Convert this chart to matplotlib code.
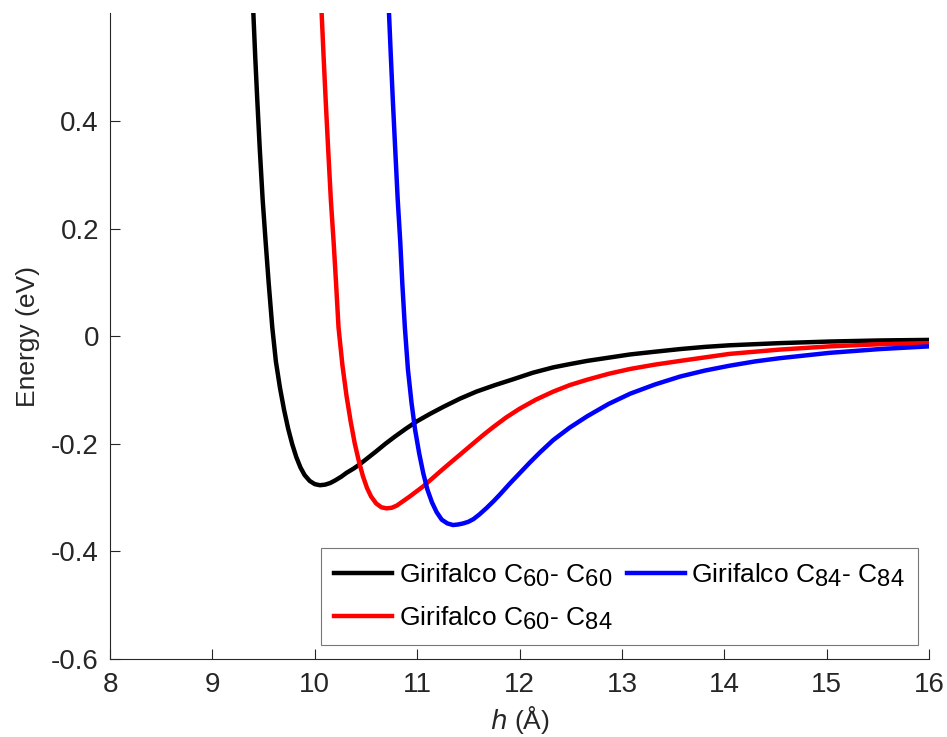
import matplotlib
matplotlib.use("Agg")
import matplotlib.pyplot as plt
import matplotlib._mathtext as _mt

# ---- data ----
h_c60_c60 = [9.40, 9.418, 9.438, 9.462, 9.491, 9.52, 9.55, 9.585, 9.62, 9.66, 9.70,
             9.74, 9.78, 9.82, 9.86, 9.90, 9.95, 10.00, 10.05, 10.10, 10.15, 10.20,
             10.26, 10.31, 10.38, 10.44, 10.52, 10.60, 10.69, 10.78, 10.89, 11.00,
             11.13, 11.26, 11.42, 11.58, 11.76, 11.94, 12.13, 12.33, 12.49, 12.66,
             12.87, 13.08, 13.32, 13.57, 13.81, 14.05, 14.54, 15.03, 15.52, 16.0]
e_c60_c60 = [0.60, 0.52, 0.44, 0.35, 0.253, 0.175, 0.098, 0.016, -0.047, -0.096, -0.137,
             -0.172, -0.201, -0.225, -0.244, -0.258, -0.269, -0.275, -0.277, -0.276, -0.273, -0.268,
             -0.261, -0.254, -0.246, -0.238, -0.226, -0.214, -0.200, -0.187, -0.172, -0.158,
             -0.144, -0.131, -0.116, -0.103, -0.091, -0.080, -0.068, -0.058, -0.052, -0.046,
             -0.040, -0.034, -0.029, -0.024, -0.020, -0.017, -0.013, -0.010, -0.008, -0.007]

h_c60_c84 = [10.067, 10.086, 10.106, 10.13, 10.157, 10.184, 10.208, 10.232, 10.27, 10.31,
             10.35, 10.39, 10.43, 10.47, 10.51, 10.55, 10.60, 10.65, 10.70, 10.75, 10.80,
             10.86, 10.92, 10.99, 11.06, 11.15, 11.24, 11.32, 11.42, 11.55, 11.65, 11.75,
             11.87, 12.00, 12.16, 12.33, 12.49, 12.66, 12.87, 13.08, 13.32, 13.57, 14.05,
             14.54, 15.03, 15.52, 16.0]
e_c60_c84 = [0.60, 0.52, 0.44, 0.35, 0.253, 0.175, 0.098, 0.016, -0.054, -0.111,
             -0.158, -0.199, -0.232, -0.260, -0.282, -0.298, -0.311, -0.318, -0.320, -0.319, -0.315,
             -0.307, -0.299, -0.289, -0.279, -0.264, -0.249, -0.236, -0.220, -0.199, -0.183, -0.168,
             -0.151, -0.135, -0.118, -0.103, -0.091, -0.081, -0.070, -0.061, -0.053, -0.046, -0.033,
             -0.025, -0.019, -0.015, -0.013]

h_c84_c84 = [10.725, 10.743, 10.762, 10.785, 10.81, 10.835, 10.855, 10.88, 10.91, 10.945,
             10.98, 11.02, 11.06, 11.10, 11.145, 11.19, 11.24, 11.295, 11.35, 11.40, 11.45,
             11.50, 11.55, 11.61, 11.68, 11.75, 11.81, 11.90, 12.00, 12.10, 12.20, 12.33,
             12.49, 12.66, 12.87, 13.08, 13.32, 13.57, 13.81, 14.05, 14.30, 14.54, 15.03,
             15.52, 16.0]
e_c84_c84 = [0.60, 0.52, 0.44, 0.35, 0.254, 0.175, 0.098, 0.016, -0.062, -0.124,
             -0.174, -0.218, -0.255, -0.285, -0.309, -0.327, -0.341, -0.348, -0.351, -0.350, -0.348,
             -0.345, -0.340, -0.331, -0.319, -0.306, -0.294, -0.275, -0.255, -0.235, -0.216, -0.193,
             -0.170, -0.149, -0.126, -0.107, -0.090, -0.075, -0.064, -0.055, -0.047, -0.041, -0.031,
             -0.024, -0.019]

labels = [r"Girifalco C$_{60}$- C$_{60}$",
          r"Girifalco C$_{60}$- C$_{84}$",
          r"Girifalco C$_{84}$- C$_{84}$"]
colors = ["black", "red", "blue"]

x_ticks = [8, 9, 10, 11, 12, 13, 14, 15, 16]
y_ticks = [-0.6, -0.4, -0.2, 0, 0.2, 0.4]
y_ticklabels = ["-0.6", "-0.4", "-0.2", "0", "0.2", "0.4"]

# MATLAB-like subscripts: nearly full-size
_mt.SHRINK_FACTOR = 0.9

plt.rcParams['font.family'] = ['Liberation Sans', 'DejaVu Sans']
plt.rcParams['mathtext.default'] = 'regular'
axc = '#262626'

fig = plt.figure(figsize=(9.47, 7.37), dpi=100)
ax = fig.add_axes([0.1162, 0.1058, 0.8648, 0.8762])

for hx, ey, c, lab in zip([h_c60_c60, h_c60_c84, h_c84_c84],
                          [e_c60_c60, e_c60_c84, e_c84_c84], colors, labels):
    ax.plot(hx, ey, color=c, lw=3.2, label=lab, solid_joinstyle='round')

ax.set_xlim(8, 16)
ax.set_ylim(-0.6, 0.6)
ax.set_xticks(x_ticks)
ax.set_yticks(y_ticks)
ax.set_yticklabels(y_ticklabels)
for s in ['top', 'right']:
    ax.spines[s].set_visible(False)
for s in ['left', 'bottom']:
    ax.spines[s].set_color(axc)
    ax.spines[s].set_linewidth(0.8)
ax.tick_params(direction='in', length=7, width=0.8, colors=axc, labelsize=20, pad=8)
ax.tick_params(axis='x', pad=9)

ax.set_xlabel(r"$\mathit{h}$ (Å)", fontsize=19, color=axc, labelpad=5)
ax.set_ylabel("Energy (eV)", fontsize=19, color=axc, labelpad=8)

leg = ax.legend(ncol=2, loc='lower right', bbox_to_anchor=(0.987, 0.0217),
                fontsize=19, frameon=True, fancybox=False,
                handlelength=2.2, handletextpad=0.25, labelspacing=0.6,
                columnspacing=0.55, borderaxespad=0.0, borderpad=0.5)
leg.get_frame().set_edgecolor('#555555')
leg.get_frame().set_linewidth(0.8)

fig.savefig("out.png", dpi=100)
